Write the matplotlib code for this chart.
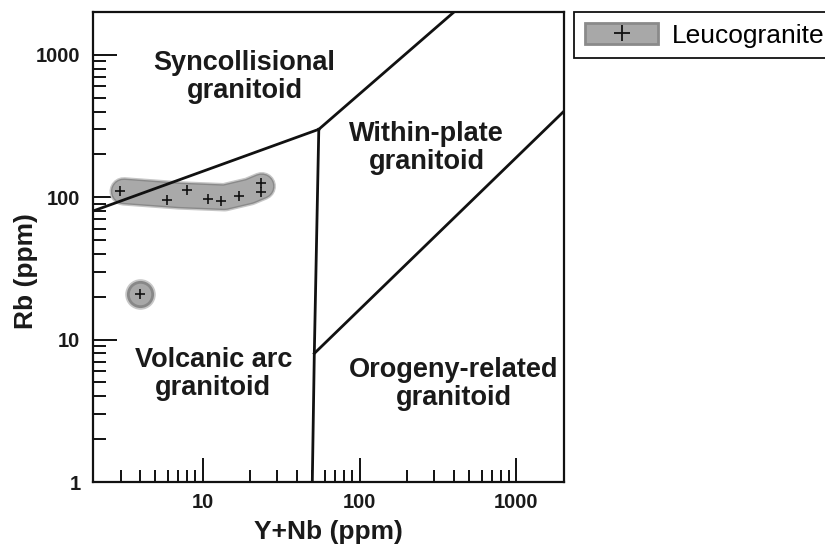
import matplotlib
matplotlib.use('Agg')
import matplotlib.pyplot as plt
import matplotlib.patheffects as pe
from matplotlib.patches import Rectangle
from matplotlib.lines import Line2D
from matplotlib.ticker import LogLocator, NullFormatter

plt.rcParams['font.family'] = ['Liberation Sans', 'DejaVu Sans']

# leucogranite samples (Y+Nb, Rb) in ppm
ynb = [2.99, 5.93, 7.94, 10.8, 13.0, 17.0, 23.7, 23.7]
rb = [110, 95.7, 112.6, 97.9, 94.8, 102, 125.5, 109.7]
single_ynb = [3.97]
single_rb = [21]

# centre line of the shaded sample field
field_ynb = [3.14, 7.1, 13.8, 19.9, 23.8]
field_rb = [110, 103, 100, 110, 119.5]

# Pearce et al. (1984) discrimination boundaries
syn_vag = ([2, 55], [80, 300])
syn_wpg = ([55, 400], [300, 2000])
vag_orgwpg = ([55, 51.5, 50], [300, 8, 1])
wpg_org = ([51.5, 2000], [8, 400])

fields = [('Syncollisional\ngranitoid', 18.5, 700),
          ('Within-plate\ngranitoid', 267, 221),
          ('Volcanic arc\ngranitoid', 11.7, 5.76),
          ('Orogeny-related\ngranitoid', 397, 4.9)]

fig = plt.figure(figsize=(8.25, 5.51), dpi=100)
ax = fig.add_axes([0.1127, 0.1252, 0.5705, 0.853])
ax.set_xscale('log')
ax.set_yscale('log')
ax.set_xlim(2, 2000)
ax.set_ylim(1, 2000)

# shaded field around the samples
ax.plot(field_ynb, field_rb, color='#a9a9a9', lw=16.5,
        solid_capstyle='round', solid_joinstyle='round', zorder=2,
        path_effects=[pe.Stroke(linewidth=20.5, foreground='#c6c6c6'),
                      pe.Stroke(linewidth=18.5, foreground='#8a8a8a'),
                      pe.Normal()])
ax.plot(single_ynb, single_rb, 'o', ms=21, color='#c8c8c8', zorder=2)
ax.plot(single_ynb, single_rb, 'o', ms=17.5, mfc='#a8a8a8', mec='#888888',
        mew=2, zorder=2)

for xs, ys in [syn_vag, syn_wpg, vag_orgwpg, wpg_org]:
    ax.plot(xs, ys, color='#111111', lw=2.0, zorder=3)

ax.plot(ynb + single_ynb, rb + single_rb, '+', color='#111111', ms=6.5,
        mew=1.2, zorder=4)

for txt, x, y in fields:
    ax.text(x, y, txt, ha='center', va='center', multialignment='center',
            fontsize=19.5, fontweight='bold', color='#1a1a1a', linespacing=1.1)

for s in ax.spines.values():
    s.set_linewidth(1.6)
    s.set_color('#111111')

ax.set_xticks([10, 100, 1000], ['10', '100', '1000'])
ax.set_yticks([1, 10, 100, 1000], ['1', '10', '100', '1000'])
ax.xaxis.set_minor_locator(LogLocator(base=10, subs=range(2, 10)))
ax.yaxis.set_minor_locator(LogLocator(base=10, subs=range(2, 10)))
ax.xaxis.set_minor_formatter(NullFormatter())
ax.yaxis.set_minor_formatter(NullFormatter())
ax.tick_params(which='major', direction='in', length=17, width=1.4,
               color='#111111', labelsize=14.5, pad=8)
ax.tick_params(which='minor', direction='in', length=9, width=1.4,
               color='#111111')
ax.tick_params(axis='y', which='major', pad=9)
for lab in ax.get_xticklabels() + ax.get_yticklabels():
    lab.set_fontweight('bold')
    lab.set_color('#1a1a1a')

ax.set_xlabel('Y+Nb (ppm)', fontsize=19, fontweight='bold', color='#1a1a1a')
ax.set_ylabel('Rb (ppm)', fontsize=19, fontweight='bold', color='#1a1a1a')
ax.xaxis.set_label_coords(0.5, -0.08)
ax.yaxis.set_label_coords(-0.117, 0.448)

patch = Rectangle((0, 0), 1, 1, facecolor='#a8a8a8', edgecolor='#8a8a8a', lw=2)
cross = Line2D([], [], ls='none', marker='+', color='#111111', ms=12, mew=1.3)
leg = fig.legend([(patch, cross)], ['Leucogranite'], loc='upper left',
                 bbox_to_anchor=(574 / 825, 1 - 12 / 551), borderaxespad=0,
                 fontsize=19, frameon=True, fancybox=False, framealpha=1,
                 edgecolor='#111111', borderpad=0.4, handlelength=2.8,
                 handleheight=0.9, handletextpad=0.5, numpoints=1)
leg.get_frame().set_linewidth(1.3)

fig.savefig('out.png', dpi=100)
